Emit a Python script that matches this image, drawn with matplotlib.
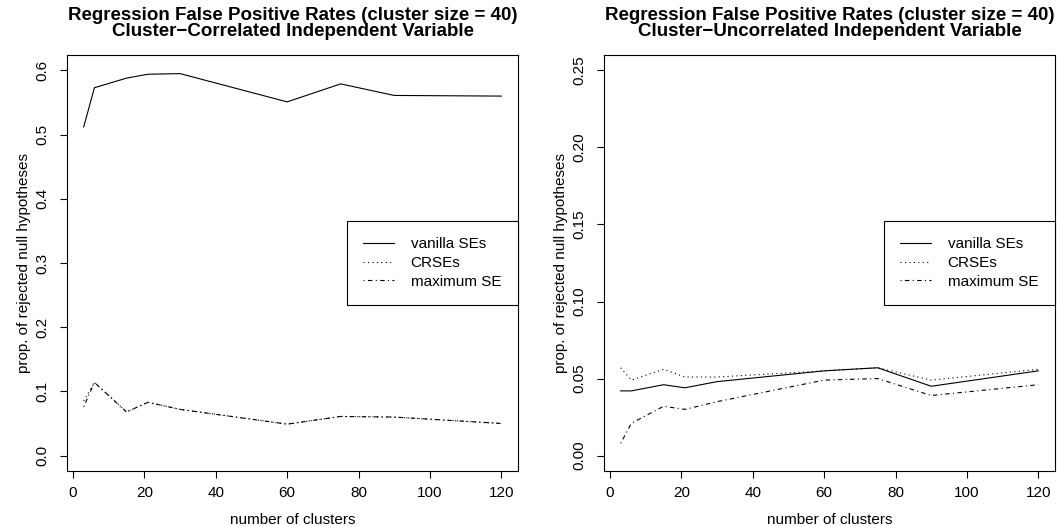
import matplotlib
matplotlib.use("Agg")
import matplotlib.pyplot as plt
from matplotlib.ticker import FormatStrFormatter

plt.rcParams["font.family"] = ["Liberation Sans", "DejaVu Sans"]

# number of clusters
clusters = [3, 6, 15, 21, 30, 60, 75, 90, 120]

# cluster-correlated independent variable
corr_vanilla = [0.512, 0.573, 0.588, 0.594, 0.595, 0.551, 0.579, 0.561, 0.560]
corr_crse = [0.085, 0.114, 0.068, 0.083, 0.072, 0.049, 0.061, 0.060, 0.050]
corr_max = [0.076, 0.114, 0.068, 0.083, 0.072, 0.049, 0.061, 0.060, 0.050]

# cluster-uncorrelated independent variable
unc_vanilla = [0.042, 0.042, 0.046, 0.044, 0.048, 0.055, 0.057, 0.045, 0.055]
unc_crse = [0.057, 0.049, 0.056, 0.051, 0.051, 0.055, 0.057, 0.049, 0.056]
unc_max = [0.008, 0.021, 0.032, 0.030, 0.035, 0.049, 0.050, 0.039, 0.046]

series_names = ["vanilla SEs", "CRSEs", "maximum SE"]
title_top = "Regression False Positive Rates (cluster size = 40)"
subtitles = ["Cluster\u2212Correlated Independent Variable",
             "Cluster\u2212Uncorrelated Independent Variable"]

W, H = 1057, 526
fig = plt.figure(figsize=(W / 100, H / 100), dpi=100)

panels = [
    (67, (corr_vanilla, corr_crse, corr_max), 0.6, "%.1f", [0, 0.1, 0.2, 0.3, 0.4, 0.5, 0.6]),
    (604, (unc_vanilla, unc_crse, unc_max), 0.25, "%.2f", [0, 0.05, 0.10, 0.15, 0.20, 0.25]),
]

for i, (left_px, ys, ytop, fmt, yticks) in enumerate(panels):
    ax = fig.add_axes([left_px / W, (H - 471) / H, 451 / W, 416 / H])
    styles = [dict(linestyle="-"),
              dict(linestyle=(0, (1, 3))),
              dict(linestyle=(0, (1, 3, 4, 3)))]
    for y, st, name in zip(ys, styles, series_names):
        ax.plot(clusters, y, color="black", lw=0.8, label=name, **st)

    xr = max(clusters) - min(clusters)
    ax.set_xlim(min(clusters) - 0.04 * xr, max(clusters) + 0.04 * xr)
    ax.set_ylim(-0.04 * ytop, ytop * 1.04)
    ax.set_xticks([0, 20, 40, 60, 80, 100, 120])
    ax.set_yticks(yticks)
    ax.yaxis.set_major_formatter(FormatStrFormatter(fmt))
    ax.tick_params(direction="out", length=5, width=0.8, labelsize=11)
    ax.tick_params(axis="y", pad=8, labelrotation=90)
    for lab in ax.get_yticklabels():
        lab.set_va("center")
    ax.tick_params(axis="x", pad=6)
    for s in ax.spines.values():
        s.set_linewidth(0.8)

    ax.set_xlabel("number of clusters", fontsize=11, labelpad=9)
    ax.set_ylabel("prop. of rejected null hypotheses", fontsize=11, labelpad=3)

    cx = (left_px + 451 / 2) / W
    fig.text(cx, 1 - 15.5 / H, title_top, ha="center", va="center",
             fontsize=13.5, fontweight="bold")
    fig.text(cx, 1 - 31 / H, subtitles[i], ha="center", va="center",
             fontsize=13.5, fontweight="bold")

    leg = ax.legend(loc="center right", borderaxespad=0, fontsize=11,
                    fancybox=False, framealpha=1, edgecolor="black",
                    handlelength=2.0, handletextpad=1.1, labelspacing=0.3,
                    borderpad=1.1)
    leg.get_frame().set_linewidth(0.8)

fig.savefig("out.png", dpi=100)
